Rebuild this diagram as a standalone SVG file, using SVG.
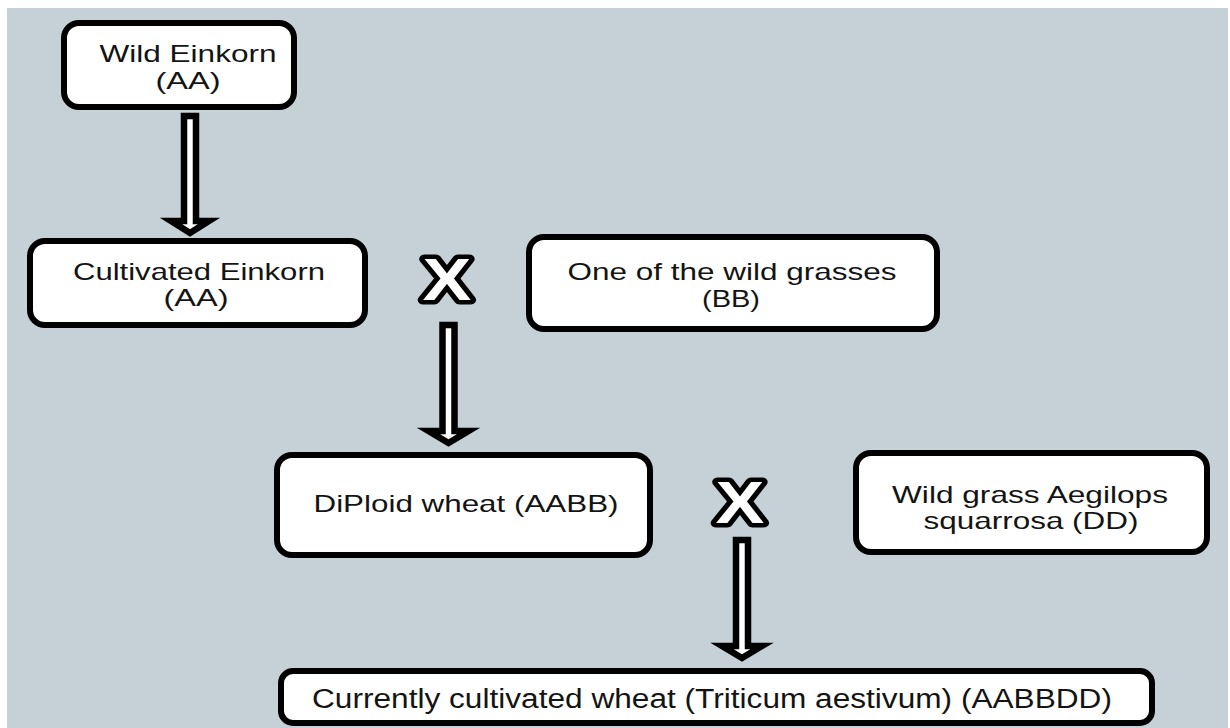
<svg xmlns="http://www.w3.org/2000/svg" width="1230" height="728" viewBox="0 0 1230 728">
<style>
.box{fill:#fff;stroke:#000;stroke-width:6;}
.t{font-family:"Liberation Sans",Arial,sans-serif;font-size:24px;fill:#141414;text-anchor:middle;}
.arr{fill:#fff;stroke:#000;stroke-width:6.5;stroke-linejoin:miter;}
.x{font-family:"Liberation Sans",Arial,sans-serif;font-weight:bold;font-size:60px;fill:#fff;stroke:#000;stroke-width:9;stroke-linejoin:round;paint-order:stroke;text-anchor:middle;}
</style>
<rect x="0" y="0" width="1230" height="728" fill="#fff"/>
<rect x="7" y="8" width="1221" height="720" fill="#c6d1d7"/>
<g id="connectors">
<path class="arr" d="M184,116 L196,116 L196,221 L209,221 L190,233 L171,221 L184,221 Z"/>
<path class="arr" d="M442.5,325 L454.5,325 L454.5,431 L468.5,431 L448.5,443 L428.5,431 L442.5,431 Z"/>
<path class="arr" d="M736,540 L748,540 L748,646 L762,646 L742,658 L722,646 L736,646 Z"/>
<g transform="translate(447,0) scale(1.22,1)"><text class="x" x="0" y="300">X</text></g>
<g transform="translate(740,0) scale(1.22,1)"><text class="x" x="0" y="523">X</text></g>
</g>
<g id="wild-einkorn">
<rect class="box" x="64" y="23" width="230" height="84" rx="15"/>
<text class="t" x="188" y="62" textLength="177" lengthAdjust="spacingAndGlyphs">Wild Einkorn</text>
<text class="t" x="188" y="89" textLength="65" lengthAdjust="spacingAndGlyphs">(AA)</text>
</g>
<g id="cultivated-einkorn">
<rect class="box" x="30" y="241" width="335" height="84" rx="15"/>
<text class="t" x="199" y="280" textLength="252" lengthAdjust="spacingAndGlyphs">Cultivated Einkorn</text>
<text class="t" x="196" y="306" textLength="65" lengthAdjust="spacingAndGlyphs">(AA)</text>
</g>
<g id="wild-grasses">
<rect class="box" x="529" y="237" width="408" height="92" rx="15"/>
<text class="t" x="732" y="280" textLength="329" lengthAdjust="spacingAndGlyphs">One of the wild grasses</text>
<text class="t" x="731" y="307" textLength="58" lengthAdjust="spacingAndGlyphs">(BB)</text>
</g>
<g id="diploid-wheat">
<rect class="box" x="277" y="455" width="373" height="100" rx="15"/>
<text class="t" x="466" y="512" textLength="305" lengthAdjust="spacingAndGlyphs">DiPloid wheat (AABB)</text>
</g>
<g id="aegilops">
<rect class="box" x="856" y="453" width="351" height="99" rx="15"/>
<text class="t" x="1030" y="503" textLength="276" lengthAdjust="spacingAndGlyphs">Wild grass Aegilops</text>
<text class="t" x="1031" y="529" textLength="215" lengthAdjust="spacingAndGlyphs">squarrosa (DD)</text>
</g>
<g id="current-wheat">
<rect class="box" x="281" y="671" width="871" height="52" rx="12"/>
<text class="t" x="712" y="708" style="font-size:27px" textLength="800" lengthAdjust="spacingAndGlyphs">Currently cultivated wheat (Triticum aestivum) (AABBDD)</text>
</g>
</svg>
